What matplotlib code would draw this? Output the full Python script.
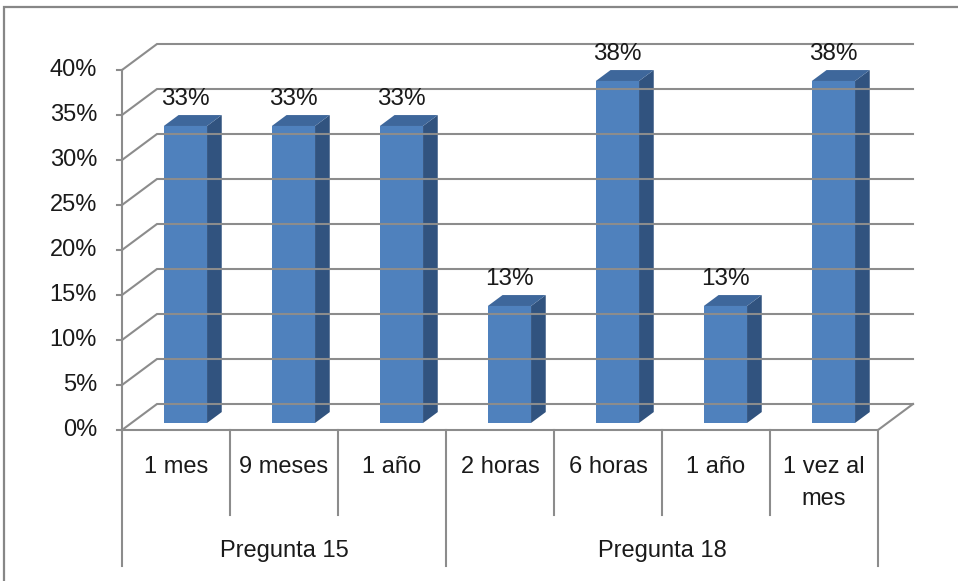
import matplotlib.pyplot as plt
from matplotlib.patches import Polygon, Rectangle

categories = ["1 mes", "9 meses", "1 año", "2 horas", "6 horas", "1 año", "1 vez al\nmes"]
values = [33, 33, 33, 13, 38, 13, 38]
groups = ["Pregunta 15", "Pregunta 18"]
group_sizes = [3, 4]
y_ticks = [0, 5, 10, 15, 20, 25, 30, 35, 40]

W, H = 958, 581
CAT_PX = 108                      # pixels per category
PCT_PX = 9                        # pixels per percent
X_ORIGIN, Y_ORIGIN = 122, 430     # front-left corner of the floor (pixels)

# oblique offset of the back wall, in data units
DEPTH_X = 35 / CAT_PX
DEPTH_Y = 26 / PCT_PX

BAR_W = 0.4
BAR_Z0, BAR_DZ = 0.27, 0.42       # bar position / thickness along depth

FRONT = "#4F81BD"
SIDE = "#31537F"
TOP = "#3E679B"
GRID = "#8C8C8C"
LW = 1.5
FS = 17
LINE_GAP = 32 / PCT_PX            # spacing between wrapped label lines

plt.rcParams["font.family"] = ["Liberation Sans", "DejaVu Sans"]

fig = plt.figure(figsize=(W / 100, H / 100), dpi=100)
ax = fig.add_axes([0, 0, 1, 1])
x_left = -0.5 - X_ORIGIN / CAT_PX
ax.set_xlim(x_left, x_left + W / CAT_PX)
ax.set_ylim((Y_ORIGIN - H) / PCT_PX, Y_ORIGIN / PCT_PX)
ax.axis("off")


def px(x, y):
    """pixel position -> data coords"""
    return (x_left + x / CAT_PX, (Y_ORIGIN - y) / PCT_PX)


n = len(categories)
xa, xb = -0.5, n - 0.5

# outer chart border
bx0, by0 = px(4, 585)
bx1, by1 = px(962, 7)
ax.add_patch(Rectangle((bx0, by0), bx1 - bx0, by1 - by0, fill=False,
                       ec="#878787", lw=1.6, clip_on=False))

# back wall + side wall gridlines, y ticks
for t in y_ticks:
    ax.plot([xa, xa + DEPTH_X, xb + DEPTH_X], [t, t + DEPTH_Y, t + DEPTH_Y],
            color=GRID, lw=LW, solid_joinstyle="miter")
    ax.plot([xa - 5 / CAT_PX, xa], [t, t], color=GRID, lw=LW)
    ax.text(xa - 25 / CAT_PX, t, f"{t}%", ha="right", va="center",
            fontsize=FS, color="#1a1a1a")

# floor front / right edges and the value axis
ax.plot([xa, xb, xb + DEPTH_X], [0, 0, DEPTH_Y], color=GRID, lw=LW,
        solid_joinstyle="miter")
ax.plot([xa, xa], [0, y_ticks[-1]], color=GRID, lw=LW)

# 3d columns
for i, v in enumerate(values):
    x0 = i - BAR_W / 2 + BAR_Z0 * DEPTH_X
    y0 = BAR_Z0 * DEPTH_Y
    x1 = x0 + BAR_W
    dx, dy = BAR_DZ * DEPTH_X, BAR_DZ * DEPTH_Y
    ax.add_patch(Polygon([(x1, y0), (x1 + dx, y0 + dy), (x1 + dx, y0 + dy + v), (x1, y0 + v)],
                         closed=True, fc=SIDE, ec="none"))
    ax.add_patch(Polygon([(x0, y0 + v), (x1, y0 + v), (x1 + dx, y0 + v + dy), (x0 + dx, y0 + v + dy)],
                         closed=True, fc=TOP, ec="none"))
    ax.add_patch(Polygon([(x0, y0), (x1, y0), (x1, y0 + v), (x0, y0 + v)],
                         closed=True, fc=FRONT, ec="none"))
    ax.text((x0 + x1) / 2, y0 + v + 2.3, f"{v}%", ha="center", va="baseline",
            fontsize=FS + 0.5, color="#1a1a1a")

# multi-level category axis
inner_bottom = (Y_ORIGIN - 515) / PCT_PX
outer_bottom = (Y_ORIGIN - 566) / PCT_PX
edges = [xa]
for s in group_sizes:
    edges.append(edges[-1] + s)
for k in range(n + 1):
    xe = xa + k
    bottom = outer_bottom if xe in edges else inner_bottom
    ax.plot([xe, xe], [0, bottom], color=GRID, lw=LW)

label_base = (Y_ORIGIN - 473) / PCT_PX
for i, c in enumerate(categories):
    for k, line in enumerate(c.split("\n")):
        ax.text(i, label_base - k * LINE_GAP, line, ha="center", va="baseline",
                fontsize=FS, color="#1a1a1a")

for g, a, b in zip(groups, edges[:-1], edges[1:]):
    ax.text((a + b) / 2, (Y_ORIGIN - 557) / PCT_PX, g, ha="center", va="baseline",
            fontsize=FS, color="#1a1a1a")

fig.savefig("out.png", dpi=100)
